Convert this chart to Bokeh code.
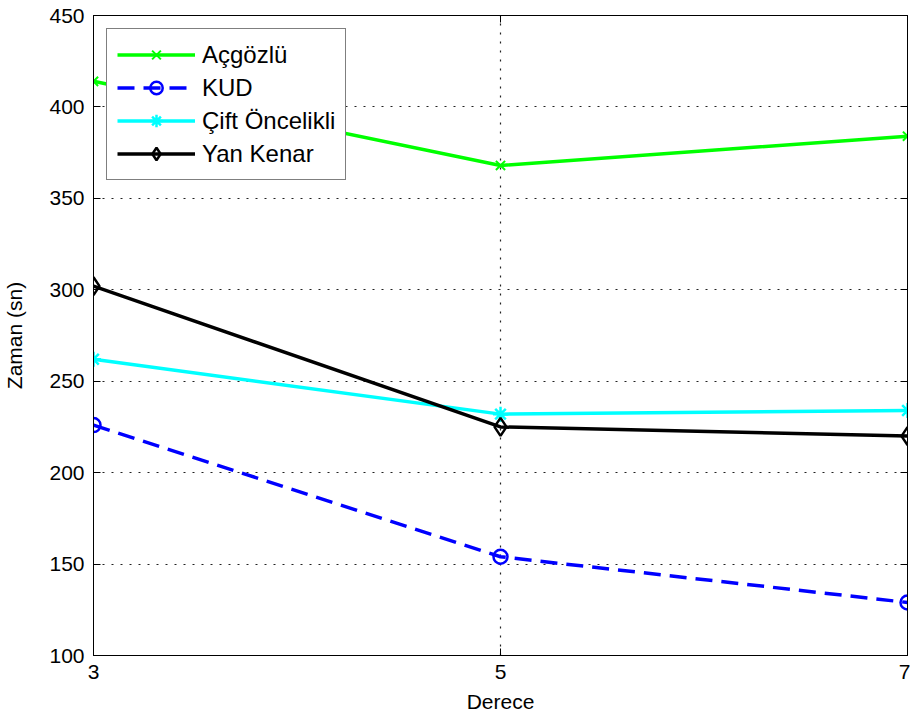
from bokeh.plotting import figure
from bokeh.models import Range1d, FixedTicker, LinearAxis, Legend
from bokeh.embed import file_html
from bokeh.resources import INLINE

# Data
x_vals = [3, 5, 7]
acgozlu = [414, 368, 384]
kud = [226, 154, 129]
cift = [262, 232, 234]
yan_kenar = [302, 225, 220]

series_names = ["Açgözlü", "KUD", "Çift Öncelikli", "Yan Kenar"]
x_ticks = [3, 5, 7]
y_ticks = [100, 150, 200, 250, 300, 350, 400, 450]

FONT = "Liberation Sans"
FS = "21px"

p = figure(width=910, height=724, output_backend="svg", toolbar_location=None,
           x_range=Range1d(3, 7), y_range=Range1d(100, 450),
           min_border_left=93, min_border_right=3, min_border_top=15, min_border_bottom=69)
p.background_fill_color = "white"
p.border_fill_color = "white"
p.outline_line_color = "black"
p.outline_line_width = 1

for ax in (p.xaxis[0], p.yaxis[0]):
    ax.major_tick_in = 7
    ax.major_tick_out = 0
    ax.minor_tick_in = 0
    ax.minor_tick_out = 0
    ax.axis_line_color = "black"
    ax.major_tick_line_color = "black"
    ax.major_label_text_font = FONT
    ax.major_label_text_font_size = FS
    ax.major_label_text_color = "black"
    ax.axis_label_text_font = FONT
    ax.axis_label_text_font_size = FS
    ax.axis_label_text_font_style = "normal"
    ax.axis_label_text_color = "black"

p.xaxis.ticker = FixedTicker(ticks=x_ticks)
p.yaxis.ticker = FixedTicker(ticks=y_ticks)
p.xaxis.axis_label = "Derece"
p.yaxis.axis_label = "Zaman (sn)"
p.xaxis.major_label_standoff = 9
p.yaxis.major_label_standoff = 9
p.xaxis.axis_label_standoff = 8
p.yaxis.axis_label_standoff = 20

# Mirror ticks on top and right (minor ticks only, so no labels are drawn)
top_ax = LinearAxis(ticker=FixedTicker(ticks=[], minor_ticks=x_ticks), major_tick_in=0, major_tick_out=0,
                    minor_tick_in=7, minor_tick_out=0, minor_tick_line_color="black",
                    major_label_standoff=0, axis_line_color="black")
right_ax = LinearAxis(ticker=FixedTicker(ticks=[], minor_ticks=y_ticks), major_tick_in=0, major_tick_out=0,
                      minor_tick_in=7, minor_tick_out=0, minor_tick_line_color="black",
                      major_label_standoff=0, axis_line_color="black")
p.add_layout(top_ax, "above")
p.add_layout(right_ax, "right")

p.xgrid.ticker = FixedTicker(ticks=x_ticks)
p.ygrid.ticker = FixedTicker(ticks=y_ticks)
for g in (p.xgrid[0], p.ygrid[0]):
    g.grid_line_color = "#222222"
    g.grid_line_dash = "2 7"
    g.grid_line_width = 1.2

LW = 3.5

r1 = p.line(x_vals, acgozlu, line_color="#00FF00", line_width=LW)
s1 = p.scatter(x_vals, acgozlu, marker="x", size=13, line_color="#00FF00", line_width=2)
r2 = p.line(x_vals, kud, line_color="#0000FF", line_width=LW, line_dash="17 9")
s2 = p.scatter(x_vals, kud, marker="circle", size=14, line_color="#0000FF", fill_color=None, line_width=2.5)
r3 = p.line(x_vals, cift, line_color="#00FFFF", line_width=LW)
s3 = p.scatter(x_vals, cift, marker="asterisk", size=15, line_color="#00FFFF", line_width=2.5)
r4 = p.line(x_vals, yan_kenar, line_color="black", line_width=LW)
s4 = p.scatter(x_vals, yan_kenar, marker="diamond", size=18, line_color="black", fill_color=None, line_width=2.5)

legend = Legend(items=[(series_names[0], [r1, s1]), (series_names[1], [r2, s2]),
                       (series_names[2], [r3, s3]), (series_names[3], [r4, s4])],
                location="top_left")
legend.margin = 13
legend.padding = 10
legend.spacing = 2
legend.label_height = 31
legend.glyph_height = 31
legend.glyph_width = 78
legend.label_standoff = 7
legend.label_text_font = FONT
legend.label_text_font_size = "24px"
legend.label_text_color = "black"
legend.border_line_color = "black"
legend.border_line_width = 1
legend.background_fill_color = "white"
legend.background_fill_alpha = 1
p.add_layout(legend, "center")

open("out.html", "w").write(file_html(p, INLINE))
